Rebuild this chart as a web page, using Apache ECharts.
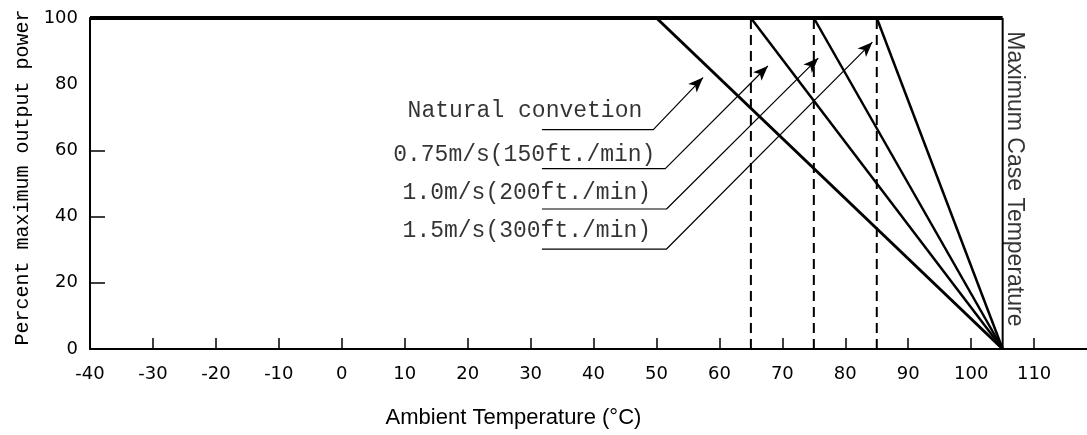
<!DOCTYPE html>
<html>
<head>
<meta charset="utf-8">
<title>Power derating</title>
<script src="https://cdn.jsdelivr.net/npm/echarts@6/dist/echarts.min.js"></script>
<style>
  html, body { margin: 0; padding: 0; background: #fff; }
  #chart { width: 1087px; height: 435px; }
</style>
</head>
<body>
<div id="chart"></div>
<script>
// derating curves: 100% at the knee temperature, 0% at max case temperature
const curveNames = ['Natural convetion', '0.75m/s(150ft./min)', '1.0m/s(200ft./min)', '1.5m/s(300ft./min)'];
const kneeTemps = [50, 65, 75, 85];
const caseTemp = 105;
const fullPower = 100;
const dashedTemps = [65, 75, 85];

// label leaders (°C, %)
const labelPos = [[29.1, 71.9], [29.0, 58.6], [29.4, 47.1], [29.4, 35.8]];
const leaderY = [66.3, 54.5, 42.3, 30.2];
const leaderStartX = 31.8;
const leaderBendX = [49.5, 51.4, 51.6, 51.6];
const arrowPts = [[57.4, 82.0], [67.7, 85.5], [75.7, 87.9], [84.3, 92.7]];

const caseLabel = 'Maximum Case Temperature';
const caseLabelPos = [106.9, 51.4];

const xTicks = [-40, -30, -20, -10, 0, 10, 20, 30, 40, 50, 60, 70, 80, 90, 100, 110];
const yTicks = [0, 20, 40, 60, 80, 100];
const yInnerTicks = [20, 40, 60];

const chart = echarts.init(document.getElementById('chart'));

const series = [];

curveNames.forEach((name, i) => {
  series.push({
    name: name,
    type: 'line',
    data: [[kneeTemps[i], fullPower], [caseTemp, 0]],
    symbol: 'none',
    clip: false,
    lineStyle: { color: '#000', width: i === 0 ? 3 : 2.5 }
  });
});

// heavy top edge and right edge at max case temperature
series.push({
  type: 'line',
  data: [[xTicks[0], fullPower], [caseTemp, fullPower]],
  symbol: 'none',
  clip: false,
  lineStyle: { color: '#000', width: 4 }
});
series.push({
  type: 'line',
  data: [[caseTemp, 0], [caseTemp, fullPower]],
  symbol: 'none',
  clip: false,
  lineStyle: { color: '#000', width: 2 }
});

dashedTemps.forEach((t) => {
  series.push({
    type: 'line',
    data: [[t, 0], [t, fullPower]],
    symbol: 'none',
    clip: false,
    lineStyle: { color: '#000', width: 2, type: [10, 6] }
  });
});

// leader lines with arrow heads
curveNames.forEach((name, i) => {
  series.push({
    type: 'line',
    data: [
      [leaderStartX, leaderY[i]],
      [leaderBendX[i], leaderY[i]],
      { value: arrowPts[i], symbol: 'arrow', symbolSize: [9, 15], symbolRotate: -45 }
    ],
    symbol: 'none',
    clip: false,
    itemStyle: { color: '#000' },
    lineStyle: { color: '#000', width: 1.2 }
  });
});

// curve labels
series.push({
  type: 'scatter',
  data: curveNames.map((name, i) => ({ name: name, value: labelPos[i] })),
  symbolSize: 1,
  itemStyle: { color: 'rgba(0,0,0,0)' },
  label: {
    show: true,
    position: 'inside',
    formatter: (p) => p.name,
    fontFamily: 'Liberation Mono',
    fontSize: 23,
    color: '#000',
    textBorderWidth: 0
  }
});

// right side caption
series.push({
  type: 'scatter',
  data: [{ name: caseLabel, value: caseLabelPos }],
  symbolSize: 1,
  clip: false,
  itemStyle: { color: 'rgba(0,0,0,0)' },
  label: {
    show: true,
    position: 'inside',
    rotate: -90,
    formatter: (p) => p.name,
    fontFamily: 'Liberation Sans',
    fontSize: 23,
    color: '#000',
    textBorderWidth: 0
  }
});

const option = {
  backgroundColor: '#fff',
  animation: false,
  grid: { left: 90, right: 0, top: 18, bottom: 86 },
  xAxis: {
    type: 'value',
    min: -40,
    max: 118.4,
    name: 'Ambient Temperature (°C)',
    nameLocation: 'middle',
    nameGap: 58,
    nameTextStyle: { fontFamily: 'Liberation Sans', fontSize: 22, color: '#000', padding: [0, 150, 0, 0] },
    axisLine: { show: true, onZero: false, lineStyle: { color: '#000', width: 2 } },
    // negative length draws the ticks into the plot
    axisTick: { show: true, length: -11, customValues: xTicks.slice(1), lineStyle: { color: '#000', width: 1.5 } },
    axisLabel: { customValues: xTicks, margin: 16, fontFamily: 'DejaVu Sans', fontSize: 18, color: '#000' },
    splitLine: { show: false }
  },
  yAxis: {
    type: 'value',
    min: 0,
    max: 100,
    name: 'Percent maximum output power',
    nameLocation: 'middle',
    nameGap: 57,
    nameTextStyle: { fontFamily: 'Liberation Mono', fontSize: 20, color: '#000', padding: [0, 0, 0, 12] },
    axisLine: { show: true, onZero: false, lineStyle: { color: '#000', width: 2 } },
    axisTick: { show: true, length: -15, customValues: yInnerTicks, lineStyle: { color: '#000', width: 1.5 } },
    axisLabel: { customValues: yTicks, margin: 12, fontFamily: 'DejaVu Sans', fontSize: 18, color: '#000' },
    splitLine: { show: false }
  },
  series: series
};

chart.setOption(option);
</script>
</body>
</html>
